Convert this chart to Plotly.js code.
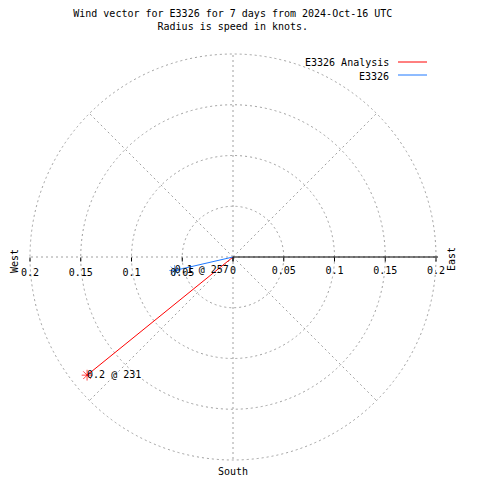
<!DOCTYPE html>
<html><head><meta charset="utf-8">
<script src="https://cdn.plot.ly/plotly-3.0.1.min.js"></script>
<style>html,body{margin:0;padding:0;background:#fff}#chart{width:480px;height:480px}</style>
</head><body><div id="chart"></div>
<script>
const seriesNames = ['E3326 Analysis', 'E3326'];
const seriesColors = ['#ff0000', '#1e78ff'];
const speeds = [0.185, 0.059];
const directions = [231, 257];
const pointLabels = ['0.2 @ 231', '0.1 @ 257'];
const radialTicks = [0, 0.05, 0.1, 0.15, 0.2];
const radialTickText = ['0', '0.05', '0.1', '0.15', '0.2'];
const westTickText = ['', '0.05', '0.1', '0.15', '0.2'];
const compassLabels = ['West', 'East', 'South'];

const FONT = 'DejaVu Sans Mono, Liberation Mono, monospace';
const RMAX = 0.202;
const R = 203 * RMAX / 0.2;
const dom = {x: [(233 - R)/480, (233 + R)/480], y: [(223 - R)/480, (223 + R)/480]};

const traces = [];
seriesNames.forEach((n, i) => {
  traces.push({
    type: 'scatterpolar', subplot: 'polar',
    name: n,
    r: [0, speeds[i]], theta: [directions[i], directions[i]],
    mode: 'lines+markers',
    line: {color: seriesColors[i], width: 1},
    marker: {symbol: 'asterisk-open', size: [0, 9], color: seriesColors[i], line: {color: seriesColors[i], width: 1}},
    showlegend: false, cliponaxis: false
  });
  traces.push({
    type: 'scatterpolar', subplot: 'polar',
    name: n + ' label',
    r: [speeds[i]], theta: [directions[i]],
    mode: 'text', text: [pointLabels[i]],
    marker: {size: 1},
    textposition: 'middle right',
    textfont: {family: FONT, size: 10, color: '#000'},
    showlegend: false, cliponaxis: false
  });
});

const grid = {gridcolor: '#a0a0a0', griddash: '2px,3px', gridwidth: 1};
const ann = (text, x, y, extra) => Object.assign({text, xref: 'paper', yref: 'paper', x: x/480, y: 1 - y/480,
  xanchor: 'center', yanchor: 'middle', showarrow: false, font: {family: FONT, size: 10, color: '#000'}}, extra || {});
const layout = {
  width: 480, height: 480,
  margin: {l: 0, r: 0, t: 0, b: 0},
  paper_bgcolor: '#fff',
  font: {family: FONT, size: 10, color: '#000'},
  showlegend: false,
  title: {text: 'Wind vector for E3326 for 7 days from 2024-Oct-16 UTC<br>Radius is speed in knots.',
          x: 0.485, xanchor: 'center', y: 0.965, yanchor: 'top', font: {family: FONT, size: 10, color: '#000'}},
  polar: {
    domain: dom, bgcolor: 'rgba(0,0,0,0)',
    angularaxis: Object.assign({rotation: 90, direction: 'clockwise', dtick: 45, tick0: 0,
      showticklabels: false, ticks: '', showline: false}, grid),
    radialaxis: Object.assign({range: [0, RMAX], angle: 0, tickvals: radialTicks, ticktext: radialTickText,
      showline: true, linecolor: '#000', linewidth: 1, ticks: 'outside', ticklen: 4, tickcolor: '#000',
      side: 'clockwise', tickfont: {family: FONT, size: 10, color: '#000'}, tickangle: 0}, grid)
  },
  polar2: {
    domain: dom, bgcolor: 'rgba(0,0,0,0)',
    angularaxis: {rotation: 90, direction: 'clockwise', showgrid: false, showticklabels: false, ticks: '', showline: false},
    radialaxis: {range: [0, RMAX], angle: 180, tickvals: radialTicks, ticktext: westTickText,
      showline: false, showgrid: false, ticks: 'outside', ticklen: 4, tickcolor: '#000',
      side: 'counterclockwise', tickfont: {family: FONT, size: 10, color: '#000'}, tickangle: 180}
  },
  annotations: [
    ann(compassLabels[0], 14, 261, {textangle: -90}),
    ann(compassLabels[1], 451, 259, {textangle: -90}),
    ann(compassLabels[2], 233, 471),
    ann(seriesNames[0], 391, 63, {xanchor: 'right'}),
    ann(seriesNames[1], 391, 76, {xanchor: 'right'})
  ],
  shapes: [
    {type: 'line', xref: 'paper', yref: 'paper', x0: 398/480, x1: 427/480, y0: 1 - 62/480, y1: 1 - 62/480, line: {color: seriesColors[0], width: 1}},
    {type: 'line', xref: 'paper', yref: 'paper', x0: 398/480, x1: 427/480, y0: 1 - 75/480, y1: 1 - 75/480, line: {color: seriesColors[1], width: 1}}
  ]
};
const dummy = {type: 'scatterpolar', subplot: 'polar2', r: [0], theta: [0], mode: 'markers', marker: {size: 0, opacity: 0}, showlegend: false, hoverinfo: 'skip'};
Plotly.newPlot('chart', [dummy].concat(traces), layout, {staticPlot: true});
</script></body></html>
